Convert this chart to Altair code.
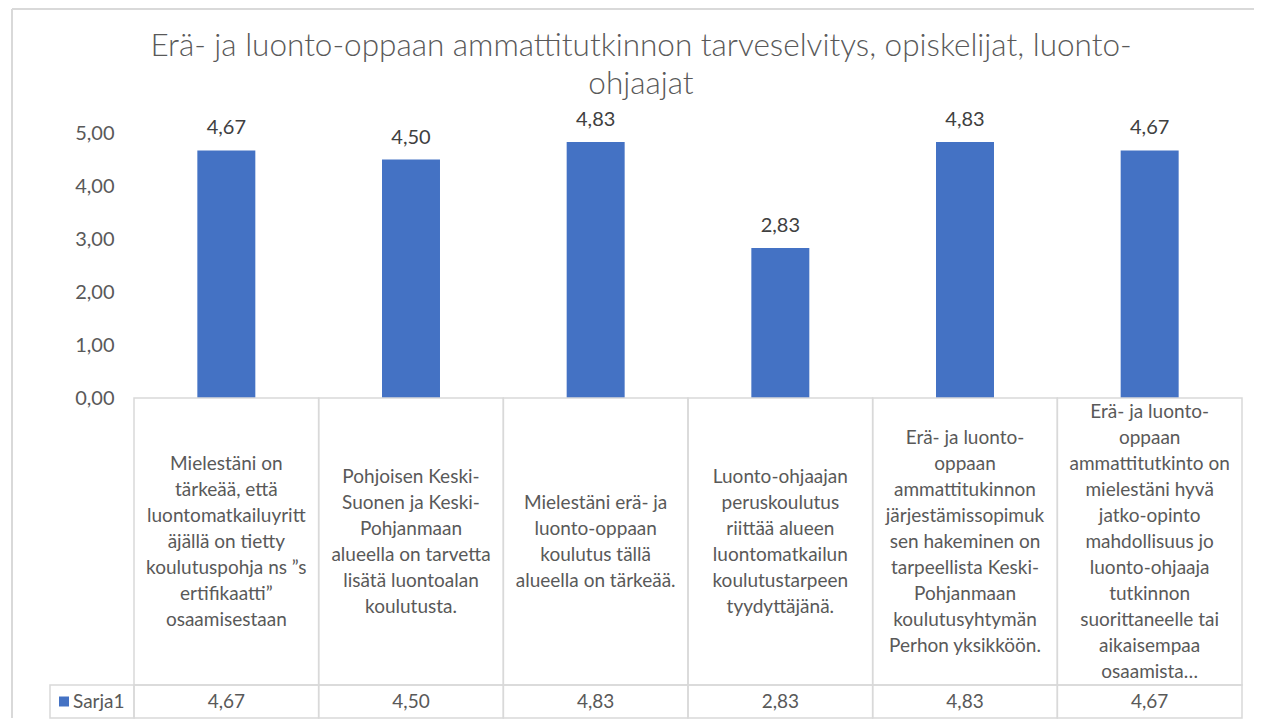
import altair as alt
import pandas as pd

# ---- data ----
title_lines = [
    "Erä- ja luonto-oppaan ammattitutkinnon tarveselvitys, opiskelijat, luonto-",
    "ohjaajat",
]
categories = [
    "Mielestäni on\ntärkeää, että\nluontomatkailuyritt\näjällä on tietty\nkoulutuspohja ns ”s\nertifikaatti”\nosaamisestaan",
    "Pohjoisen Keski-\nSuonen ja Keski-\nPohjanmaan\nalueella on tarvetta\nlisätä luontoalan\nkoulutusta.",
    "Mielestäni erä- ja\nluonto-oppaan\nkoulutus tällä\nalueella on tärkeää.",
    "Luonto-ohjaajan\nperuskoulutus\nriittää alueen\nluontomatkailun\nkoulutustarpeen\ntyydyttäjänä.",
    "Erä- ja luonto-\noppaan\nammattitukinnon\njärjestämissopimuk\nsen hakeminen on\ntarpeellista Keski-\nPohjanmaan\nkoulutusyhtymän\nPerhon yksikköön.",
    "Erä- ja luonto-\noppaan\nammattitutkinto on\nmielestäni hyvä\njatko-opinto\nmahdollisuus jo\nluonto-ohjaaja\ntutkinnon\nsuorittaneelle tai\naikaisempaa\nosaamista…",
]
values = [4.67, 4.50, 4.83, 2.83, 4.83, 4.67]
series_name = "Sarja1"
y_ticks = [0, 1, 2, 3, 4, 5]

df = pd.DataFrame({"cat": categories, "value": values})
df["label"] = [f"{v:.2f}".replace(".", ",") for v in values]

# one row per wrapped line of each category label, centred on the cell
rows = []
for c in categories:
    parts = c.split("\n")
    for i, ln in enumerate(parts):
        rows.append({"cat": c, "line": ln, "pos": i - (len(parts) - 1) / 2})
lines_df = pd.DataFrame(rows)

# ---- styles ----
BLUE = "#4472C4"
GREY_TXT = "#595959"
BORDER = "#D9D9D9"
FONT = "Lato"
W, HA, HB, HC = 1108, 265, 287, 33
LH = 26

base = alt.Chart(df)

# ---- panel A: bars ----
xA = alt.X("cat:N", sort=categories, axis=None,
           scale=alt.Scale(paddingInner=0.686, paddingOuter=0.343))
yA = alt.Y("value:Q",
           scale=alt.Scale(domain=[0, 5], nice=False, zero=True),
           axis=alt.Axis(values=y_ticks, grid=False, domain=False, ticks=False,
                         labelExpr="replace(format(datum.value, '.2f'), '.', ',')",
                         labelFontSize=20, labelColor=GREY_TXT, labelFont=FONT,
                         labelPadding=20, title=None))
bars = base.mark_bar(color=BLUE).encode(x=xA, y=yA)
bar_labels = base.mark_text(dy=-22, fontSize=20, color="#404040", font=FONT,
                            baseline="middle").encode(x=xA, y="value:Q", text="label:N")

title_df = pd.DataFrame({"t": ["\n".join(title_lines)]})
title = alt.Chart(title_df).mark_text(
    lineBreak="\n", fontSize=31.5, lineHeight=38, font=FONT, fontWeight=300,
    color=GREY_TXT, baseline="middle", align="center"
).encode(x=alt.value(507), y=alt.value(-86), text="t:N")

frame_df = pd.DataFrame({"a": [0]})
frame_top = alt.Chart(frame_df).mark_rule(color=BORDER, strokeWidth=2).encode(
    x=alt.value(-122), x2=alt.value(1120), y=alt.value(-124))
frame_left = alt.Chart(frame_df).mark_rule(color=BORDER, strokeWidth=2).encode(
    x=alt.value(-122), y=alt.value(-124), y2=alt.value(HA + HB + HC))

panelA = alt.layer(frame_top, frame_left, title, bars, bar_labels).properties(width=W, height=HA)

# ---- panel B: category cells ----
xB = alt.X("cat:N", sort=categories, axis=None, scale=alt.Scale(paddingInner=0, paddingOuter=0))
half = HB / 2 / LH
cellsB = base.mark_rect(fill="white", fillOpacity=0, stroke=BORDER, strokeWidth=1.5).encode(
    x=xB, y=alt.value(0), y2=alt.value(HB))
textB = alt.Chart(lines_df).mark_text(fontSize=19, color=GREY_TXT, font=FONT,
                                      baseline="middle", align="center").encode(
    x=xB,
    y=alt.Y("pos:Q", axis=None,
            scale=alt.Scale(domain=[-half, half], reverse=True, nice=False, zero=False)),
    text="line:N")
panelB = alt.layer(cellsB, textB).properties(width=W, height=HB)

# ---- panel C: values row ----
cellsC = base.mark_rect(fill="white", fillOpacity=0, stroke=BORDER, strokeWidth=1.5).encode(
    x=xB, y=alt.value(0), y2=alt.value(HC))
textC = base.mark_text(fontSize=19, color=GREY_TXT, font=FONT, baseline="middle").encode(
    x=xB, y=alt.value(HC / 2), text="label:N")
sdf = alt.Chart(pd.DataFrame({"s": [series_name]}))
labelcell = sdf.mark_rect(fill="white", fillOpacity=0, stroke=BORDER, strokeWidth=1.5).encode(
    x=alt.value(-84), x2=alt.value(0), y=alt.value(0), y2=alt.value(HC))
swatch = sdf.mark_rect(color=BLUE).encode(
    x=alt.value(-75), x2=alt.value(-65), y=alt.value(HC / 2 - 5), y2=alt.value(HC / 2 + 5))
stext = sdf.mark_text(align="left", fontSize=19, color=GREY_TXT, font=FONT,
                      baseline="middle").encode(x=alt.value(-61), y=alt.value(HC / 2), text="s:N")
panelC = alt.layer(cellsC, labelcell, swatch, stext, textC).properties(width=W, height=HC)

chart = alt.vconcat(panelA, panelB, panelC, spacing=0, bounds="flush").properties(
    padding={"left": 3, "top": 0, "right": 0, "bottom": 0}
).configure_view(strokeWidth=0)

chart.save("out.html", embed_options={"renderer": "svg", "actions": False})
